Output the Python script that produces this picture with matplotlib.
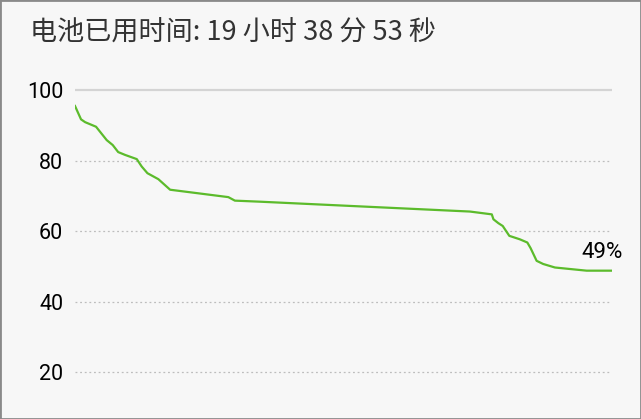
import matplotlib
matplotlib.use("Agg")
import matplotlib.pyplot as plt
from matplotlib.patches import Rectangle

plt.rcParams['font.family'] = ['Roboto', 'Noto Sans CJK SC', 'DejaVu Sans']

# battery level (%) against elapsed hours
hours = [0.0, 0.22, 0.37, 0.77, 1.16, 1.38, 1.58, 1.83, 2.26, 2.44, 2.65, 3.05,
         3.48, 5.61, 5.85, 6.77, 14.45, 15.25, 15.31, 15.49, 15.65, 15.89, 16.28,
         16.55, 16.67, 16.89, 17.13, 17.56, 18.72, 19.64]
level = [95.6, 91.8, 91.0, 89.7, 85.9, 84.5, 82.5, 81.7, 80.5, 78.4, 76.5, 74.8,
         71.8, 69.7, 68.7, 68.4, 65.6, 64.8, 63.4, 62.3, 61.5, 58.7, 57.7,
         56.8, 55.2, 51.6, 50.7, 49.7, 48.8, 48.8]
yticks = [20, 40, 60, 80, 100]
title = "电池已用时间: 19 小时 38 分 53 秒"
end_label = "49%"

W, H = 641, 419
fig = plt.figure(figsize=(W / 100, H / 100), dpi=100)
fig.patch.set_facecolor('#f7f7f7')
fig.patches.append(Rectangle((0, 0), 1, 1, transform=fig.transFigure,
                             fill=False, edgecolor='#8a8a8a', linewidth=2))

ax = fig.add_axes([75 / W, 19 / H, 537 / W, 320 / H])
ax.set_facecolor('#f7f7f7')
ax.set_xlim(0, 19.648)
ax.set_ylim(12.05, 102.98)
for s in ax.spines.values():
    s.set_visible(False)

for t in yticks:
    if t == 100:
        ax.axhline(t, color='#d4d4d4', lw=1.6, zorder=1)
    else:
        ax.axhline(t, color='#bdbdbd', lw=0.9, ls=(0, (1.5, 2.2)), zorder=1)

ax.plot(hours, level, color='#5cbb2c', lw=1.6, zorder=3, solid_joinstyle='round')
ax.annotate(end_label, (hours[-1], level[-1]), xytext=(11, 12.5),
            textcoords='offset pixels', ha='right', va='baseline',
            fontsize=16, color='#000000')

ax.set_yticks(yticks)
ax.set_yticklabels([str(t) for t in yticks], fontsize=15.5, color='#000000')
ax.tick_params(axis='y', length=0, pad=8.5)
ax.set_xticks([])

fig.text(30 / W, 1 - 33 / H, title, ha='left', va='center', fontsize=19.5,
         color='#333333', family=['Noto Sans CJK SC', 'DejaVu Sans'])

fig.savefig('out.png', dpi=100, facecolor=fig.get_facecolor())
